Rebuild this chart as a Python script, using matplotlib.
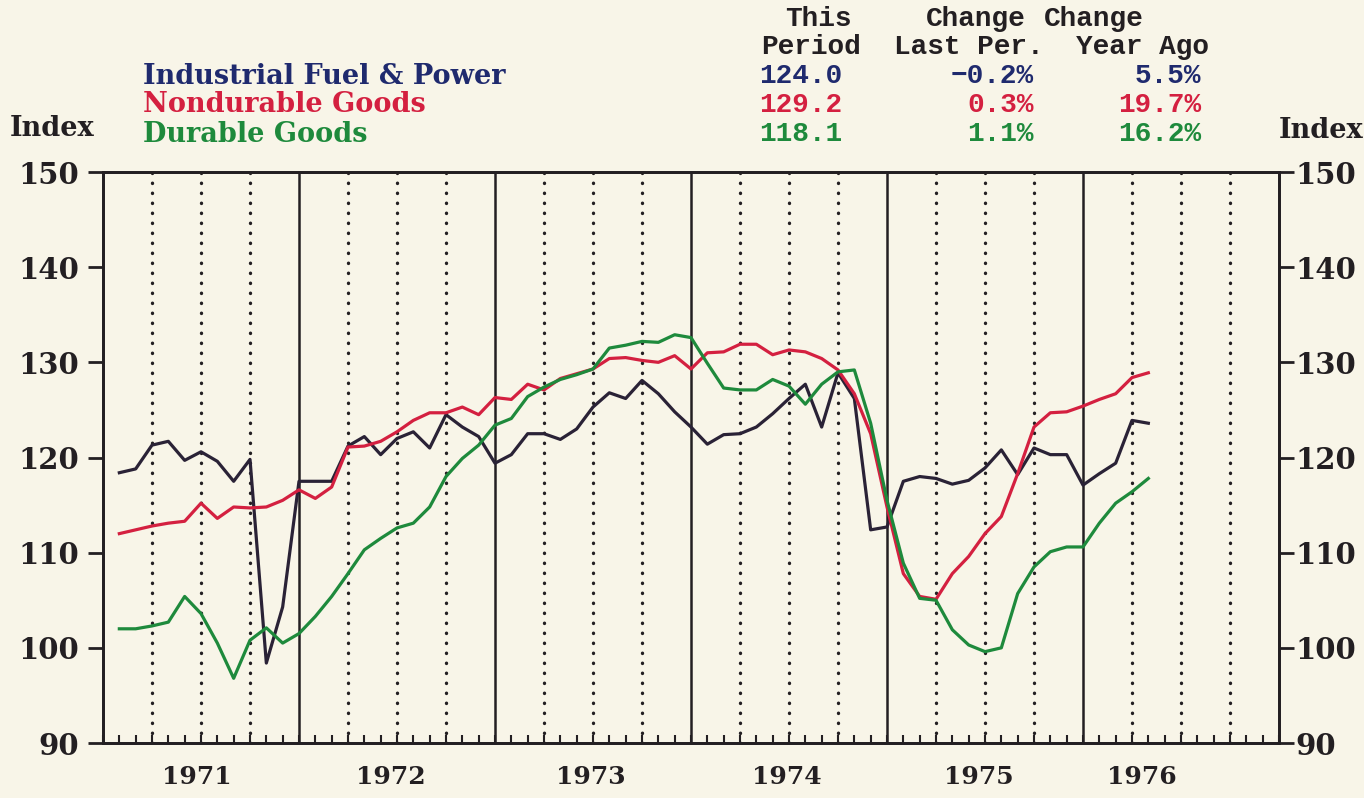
import numpy as np
import matplotlib
matplotlib.use("Agg")
import matplotlib.pyplot as plt
from matplotlib.ticker import MultipleLocator

# monthly index values, Feb 1971 .. May 1976
fuel_power = [118.4, 118.8, 121.3, 121.7, 119.7, 120.6, 119.6, 117.5, 119.8, 98.4,
              104.3, 117.5, 117.5, 117.5, 121.2, 122.2, 120.3, 122.0, 122.7, 121.0,
              124.5, 123.2, 122.2, 119.4, 120.3, 122.5, 122.5, 121.9, 123.0, 125.3,
              126.8, 126.2, 128.1, 126.7, 124.8, 123.2, 121.4, 122.4, 122.5, 123.2,
              124.6, 126.2, 127.7, 123.2, 128.9, 126.2, 112.4, 112.7, 117.5, 118.0,
              117.8, 117.2, 117.6, 118.9, 120.8, 118.2, 121.0, 120.3, 120.3, 117.1,
              118.3, 119.4, 123.9, 123.6]
nondurable = [112.0, 112.4, 112.8, 113.1, 113.3, 115.2, 113.6, 114.8, 114.7, 114.8,
              115.5, 116.6, 115.7, 116.9, 121.1, 121.2, 121.7, 122.7, 123.9, 124.7,
              124.7, 125.3, 124.5, 126.3, 126.1, 127.7, 127.1, 128.3, 128.8, 129.3,
              130.4, 130.5, 130.2, 130.0, 130.7, 129.3, 131.0, 131.1, 131.9, 131.9,
              130.8, 131.3, 131.1, 130.4, 129.2, 126.7, 122.5, 114.8, 107.8, 105.4,
              105.1, 107.8, 109.6, 112.0, 113.8, 118.3, 123.2, 124.7, 124.8, 125.4,
              126.1, 126.7, 128.4, 128.9]
durable = [102.0, 102.0, 102.3, 102.7, 105.4, 103.6, 100.5, 96.8, 100.8, 102.1,
           100.5, 101.5, 103.3, 105.4, 107.8, 110.3, 111.5, 112.6, 113.1, 114.8,
           118.0, 119.9, 121.3, 123.4, 124.1, 126.4, 127.4, 128.2, 128.7, 129.3,
           131.5, 131.8, 132.2, 132.1, 132.9, 132.6, 129.9, 127.3, 127.1, 127.1,
           128.2, 127.5, 125.6, 127.7, 129.0, 129.2, 123.6, 115.5, 108.9, 105.2,
           105.0, 101.9, 100.3, 99.6, 100.0, 105.7, 108.5, 110.1, 110.6, 110.6,
           113.1, 115.2, 116.4, 117.8]

series_names = ["Industrial Fuel & Power", "Nondurable Goods", "Durable Goods"]
this_period = ["124.0", "129.2", "118.1"]
chg_last = ["\u22120.2%", "0.3%", "1.1%"]
chg_year = ["5.5%", "19.7%", "16.2%"]
years = [1971, 1972, 1973, 1974, 1975, 1976]
year_label_pos = [1971.48, 1972.47, 1973.49, 1974.49, 1975.47, 1976.30]

BG = "#f8f5e8"
INK = "#231f22"
line_cols = ["#2a2236", "#d42040", "#1e8a3c"]
text_cols = ["#1f2a6e", "#d42040", "#1e8a3c"]
SERIF = "DejaVu Serif"
MONO = "Liberation Mono"

W, H = 1364, 798
fig = plt.figure(figsize=(W / 100, H / 100), dpi=100, facecolor=BG)
ax = fig.add_axes([103 / W, 1 - 743 / H, (1279 - 103) / W, (743 - 172) / H])
ax.set_facecolor(BG)

x = 1971 + np.arange(1, len(durable) + 1) / 12.0

# grid: solid at year boundaries, dotted at quarters
for yr in years[1:]:
    ax.axvline(yr, color=INK, lw=1.8, zorder=1)
for q in np.arange(1971.25, 1977, 0.25):
    if abs(q - round(q)) > 1e-6:
        ax.axvline(q, color=INK, lw=2.4, ls=(0, (0.1, 2.9)),
                   dash_capstyle="round", zorder=1)

for vals, c in zip([fuel_power, nondurable, durable], line_cols):
    ax.plot(x, vals, color=c, lw=2.3, zorder=3)

ax.set_xlim(1971, 1977)
ax.set_ylim(90, 150)
ax.set_yticks(np.arange(90, 151, 10))
ax.set_xticks(year_label_pos)
ax.set_xticklabels([str(y) for y in years])
ax.xaxis.set_minor_locator(MultipleLocator(1 / 12))

# right-hand scale
ax2 = ax.twinx()
ax2.set_ylim(90, 150)
ax2.set_yticks(np.arange(90, 151, 10))

for a in (ax, ax2):
    for s in a.spines.values():
        s.set_color(INK)
        s.set_linewidth(2)

ax.tick_params(axis="x", which="major", length=0, pad=16, labelsize=18, colors=INK)
ax.tick_params(axis="x", which="minor", direction="in", length=6, width=1.5,
               color=INK, top=False)
ax.tick_params(axis="y", which="major", direction="out", length=11, width=2,
               color=INK, labelsize=21, pad=6)
ax2.tick_params(axis="y", which="major", direction="out", length=11, width=2,
                color=INK, labelsize=21, pad=1)
for lab in ax.get_xticklabels() + ax.get_yticklabels() + ax2.get_yticklabels():
    lab.set_family(SERIF)
    lab.set_weight("bold")
    lab.set_color(INK)


def fx(px):
    return px / W


def fy(py):
    return 1 - py / H


fig.text(fx(10), fy(128), "Index", family=SERIF, weight="bold", size=19.5,
         color=INK, va="center", ha="left")
fig.text(fx(1364), fy(131), "Index", family=SERIF, weight="bold", size=19.5,
         color=INK, va="center", ha="right")

row_y = [76, 105, 134]
for i in range(3):
    fig.text(fx(143), fy(row_y[i]), series_names[i], family=SERIF, weight="bold",
             size=19.5, color=text_cols[i], va="center", ha="left")
    fig.text(fx(759), fy(row_y[i]), this_period[i], family=MONO, weight="bold",
             size=20, color=text_cols[i], va="center", ha="left")
    fig.text(fx(1034), fy(row_y[i]), chg_last[i], family=MONO, weight="bold",
             size=20, color=text_cols[i], va="center", ha="right")
    fig.text(fx(1201), fy(row_y[i]), chg_year[i], family=MONO, weight="bold",
             size=20, color=text_cols[i], va="center", ha="right")

hdr = dict(family=MONO, weight="bold", size=20, color=INK, va="center", ha="center")
fig.text(fx(818), fy(19), "This", **hdr)
fig.text(fx(811), fy(47), "Period", **hdr)
fig.text(fx(976), fy(19), "Change", **hdr)
fig.text(fx(969), fy(47), "Last Per.", **hdr)
fig.text(fx(1094), fy(19), "Change", **hdr)
fig.text(fx(1143), fy(47), "Year Ago", **hdr)

fig.savefig("out.png", dpi=100, facecolor=BG)
